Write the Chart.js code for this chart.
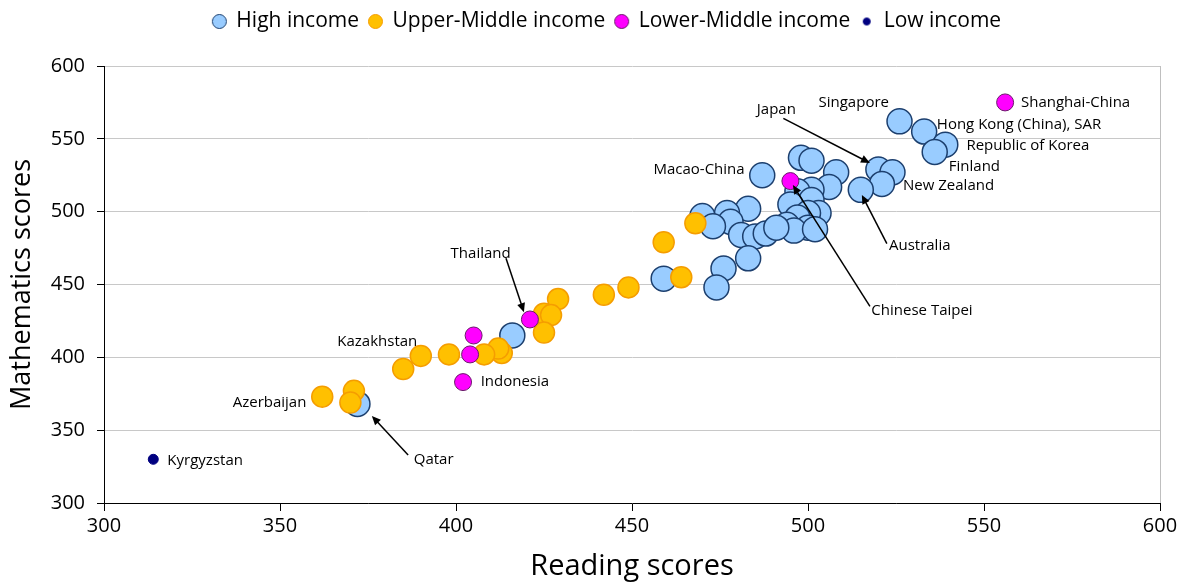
<!DOCTYPE html>
<html>
<head>
<meta charset="utf-8">
<script src="https://cdn.jsdelivr.net/npm/chart.js@4.4.1/dist/chart.umd.min.js"></script>
<style>
  html, body { margin: 0; padding: 0; background: #fff; }
</style>
</head>
<body>
<canvas id="chart" width="1184" height="583"></canvas>
<script>
// [reading, math] pairs
const highIncome = [
  [526, 562], [533, 555], [539, 546], [536, 541], [520, 529], [524, 527],
  [521, 519], [515, 515], [487, 525],
  [498, 537], [501, 535], [508, 527], [506, 517], [501, 515], [497, 514],
  [501, 508], [495, 505], [503, 499], [500, 499], [497, 496], [500, 489],
  [494, 491], [496, 487], [502, 488], [483, 502], [477, 499], [478, 493],
  [470, 497], [473, 490], [481, 484], [485, 483], [488, 485], [491, 489],
  [483, 468], [476, 461], [474, 448], [459, 454], [416, 415], [372, 368]
];
const upperMiddle = [
  [468, 492], [459, 479], [464, 455], [449, 448], [442, 443], [429, 440],
  [425, 430], [427, 429], [425, 417], [413, 403], [412, 406], [408, 402],
  [398, 402], [390, 401], [385, 392], [371, 377], [370, 369], [362, 373]
];
const lowerMiddle = [
  [556, 575], [495, 521], [421, 426], [405, 415], [404, 402], [402, 383]
];
const lowIncome = [
  [314, 330]
];

const seriesNames = ['High income', 'Upper-Middle income', 'Lower-Middle income', 'Low income'];
const xTicks = [300, 350, 400, 450, 500, 550, 600];
const yTicks = [300, 350, 400, 450, 500, 550, 600];

// country labels: text, anchor (reading, math), alignment
const countryLabels = [
  ['Singapore', 523, 575, 'right'],
  ['Hong Kong (China), SAR', 536.6, 560, 'left'],
  ['Republic of Korea', 545, 545, 'left'],
  ['Finland', 540, 531, 'left'],
  ['New Zealand', 527, 518, 'left'],
  ['Japan', 491, 570, 'center'],
  ['Australia', 523, 476.5, 'left'],
  ['Chinese Taipei', 518, 432, 'left'],
  ['Macao-China', 482, 529, 'right'],
  ['Shanghai-China', 560.5, 575, 'left'],
  ['Thailand', 407, 471, 'center'],
  ['Kazakhstan', 389, 410.5, 'right'],
  ['Indonesia', 407, 383, 'left'],
  ['Azerbaijan', 357.5, 369, 'right'],
  ['Qatar', 388, 330, 'left'],
  ['Kyrgyzstan', 318, 329, 'left']
];
// arrows: from (reading, math) to (reading, math)
const arrows = [
  [493, 564, 517.6, 533.4],
  [522.4, 478, 515.3, 511.5],
  [517.6, 435, 495.7, 518.3],
  [414.2, 468, 419.3, 431],
  [386.4, 333, 376.1, 359.8]
];

const toPoints = arr => arr.map(([x, y]) => ({x, y}));

function dot(r, fill, stroke, bw) {
  const c = document.createElement('canvas');
  const s = Math.ceil(2 * r + bw + 2);
  c.width = s; c.height = s;
  const g = c.getContext('2d');
  g.beginPath();
  g.arc(s / 2, s / 2, r, 0, Math.PI * 2);
  g.fillStyle = fill; g.fill();
  g.lineWidth = bw; g.strokeStyle = stroke; g.stroke();
  return c;
}

const styles = [
  {fill: '#99CCFF', stroke: '#1c3f6e', r: 12.5, bw: 1.5, lr: 7},
  {fill: '#FFC000', stroke: '#F59D00', r: 10.5, bw: 1.5, lr: 7},
  {fill: '#FF00FF', stroke: '#6a1a6a', r: 8.5, bw: 1, lr: 7},
  {fill: '#000080', stroke: '#000080', r: 5, bw: 1, lr: 3.5}
];
const allData = [highIncome, upperMiddle, lowerMiddle, lowIncome];

const datasets = allData.map((d, i) => ({
  label: seriesNames[i],
  data: toPoints(d),
  backgroundColor: styles[i].fill,
  borderColor: styles[i].stroke,
  borderWidth: styles[i].bw,
  pointRadius: styles[i].r,
  pointHoverRadius: styles[i].r,
  order: 4 - i
}));

// give the legend more room above the plot, and nudge it right
const legendRoom = {
  id: 'legendRoom',
  beforeInit(chart) {
    const fit = chart.legend.fit;
    chart.legend.fit = function () {
      fit.bind(chart.legend)();
      this.height = 66;
    };
  },
  afterLayout(chart) {
    chart.legend.left += 27;
    chart.legend.right += 27;
    chart.legend.top += 1;
  }
};

const frame = {
  id: 'frame',
  beforeDatasetsDraw(chart) {
    const {ctx, chartArea: a} = chart;
    ctx.save();
    ctx.strokeStyle = '#bfbfbf';
    ctx.lineWidth = 1;
    ctx.beginPath();
    ctx.moveTo(Math.round(a.right) + 0.5, a.top);
    ctx.lineTo(Math.round(a.right) + 0.5, a.bottom);
    ctx.stroke();
    ctx.restore();
  }
};

const notes = {
  id: 'notes',
  afterDatasetsDraw(chart) {
    const {ctx, scales: {x, y}} = chart;
    ctx.save();
    ctx.font = '15px "Open Sans"';
    ctx.fillStyle = '#000';
    ctx.textBaseline = 'middle';
    countryLabels.forEach(([t, lx, ly, al]) => {
      ctx.textAlign = al;
      ctx.fillText(t, x.getPixelForValue(lx), y.getPixelForValue(ly));
    });
    ctx.strokeStyle = '#000';
    ctx.lineWidth = 1.5;
    arrows.forEach(([x1, y1, x2, y2]) => {
      const ax = x.getPixelForValue(x1), ay = y.getPixelForValue(y1);
      const bx = x.getPixelForValue(x2), by = y.getPixelForValue(y2);
      const ang = Math.atan2(by - ay, bx - ax);
      const hl = 9, hw = 4;
      ctx.beginPath();
      ctx.moveTo(ax, ay);
      ctx.lineTo(bx - Math.cos(ang) * hl * 0.8, by - Math.sin(ang) * hl * 0.8);
      ctx.stroke();
      ctx.beginPath();
      ctx.moveTo(bx, by);
      ctx.lineTo(bx - Math.cos(ang) * hl - Math.sin(ang) * hw, by - Math.sin(ang) * hl + Math.cos(ang) * hw);
      ctx.lineTo(bx - Math.cos(ang) * hl + Math.sin(ang) * hw, by - Math.sin(ang) * hl - Math.cos(ang) * hw);
      ctx.closePath();
      ctx.fill();
    });
    ctx.restore();
  }
};

new Chart(document.getElementById('chart'), {
  type: 'scatter',
  data: {datasets},
  plugins: [legendRoom, frame, notes],
  options: {
    responsive: false,
    animation: false,
    layout: {padding: {left: 0, right: 24, top: 0, bottom: 0}},
    plugins: {
      tooltip: {enabled: false},
      legend: {
        position: 'top',
        labels: {
          usePointStyle: true,
          pointStyleWidth: 13,
          boxHeight: 13,
          padding: 10,
          color: '#000',
          font: {family: 'Open Sans', size: 21},
          generateLabels: () => seriesNames.map((n, i) => ({
            text: n,
            fillStyle: styles[i].fill,
            strokeStyle: styles[i].stroke,
            lineWidth: 1,
            pointStyle: dot(styles[i].lr, styles[i].fill, styles[i].stroke, 1),
            datasetIndex: i,
            hidden: false,
            fontColor: '#000'
          }))
        }
      }
    },
    scales: {
      x: {
        type: 'linear',
        min: 300, max: 600,
        afterBuildTicks: s => { s.ticks = xTicks.map(v => ({value: v})); },
        afterFit: s => { s.height = 80; },
        ticks: {color: '#000', font: {family: 'Open Sans', size: 20}, padding: 3},
        grid: {drawOnChartArea: false, tickLength: 8, tickColor: '#000'},
        border: {color: '#000', width: 1},
        title: {display: true, text: 'Reading scores', color: '#000',
                font: {family: 'Open Sans', size: 29, lineHeight: 1.1}, padding: 0}
      },
      y: {
        min: 300, max: 600,
        afterBuildTicks: s => { s.ticks = yTicks.map(v => ({value: v})); },
        afterFit: s => { s.width = 104; },
        ticks: {color: '#000', font: {family: 'Open Sans', size: 20}, padding: 12},
        grid: {color: '#c8c8c8', tickColor: '#000', tickLength: 7},
        border: {color: '#000', width: 1},
        title: {display: true, text: 'Mathematics scores', color: '#000',
                font: {family: 'Open Sans', size: 27}, padding: {top: 6, bottom: 0}}
      }
    }
  }
});
</script>
</body>
</html>
